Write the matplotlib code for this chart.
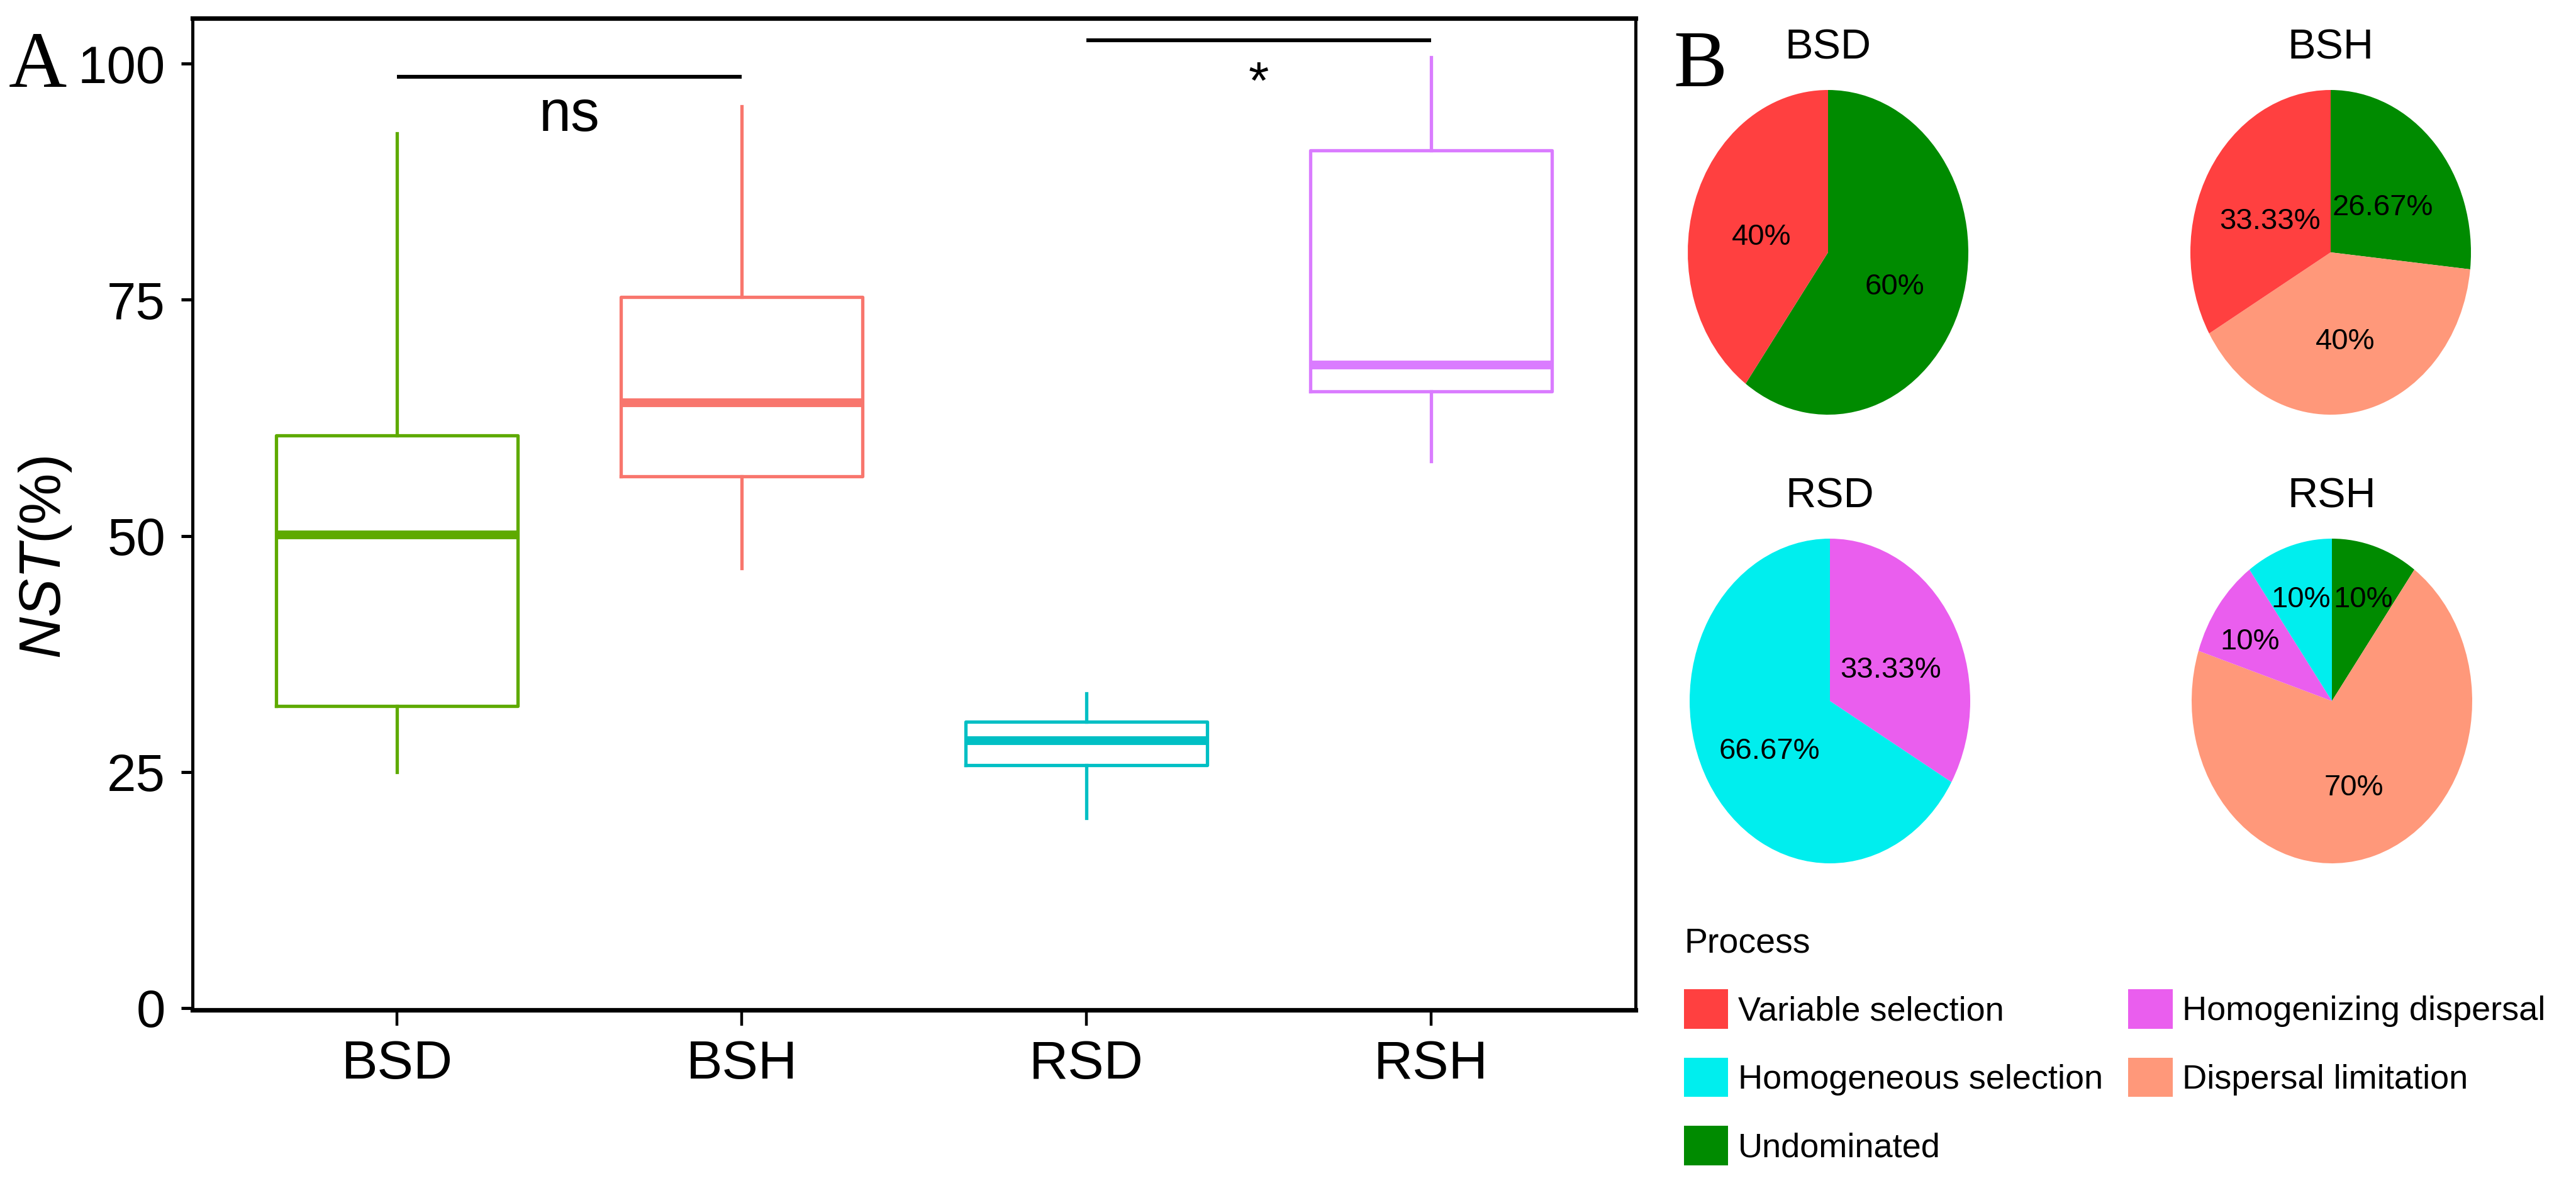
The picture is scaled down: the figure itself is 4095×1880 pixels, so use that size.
import numpy as np
import matplotlib.pyplot as plt
from matplotlib.patches import Patch

plt.rcParams['font.family'] = ['Liberation Sans', 'DejaVu Sans']
plt.rcParams['mathtext.fontset'] = 'custom'
plt.rcParams['mathtext.it'] = 'Liberation Sans:italic'
plt.rcParams['mathtext.rm'] = 'Liberation Sans'

# --- panel A data (NST %) ---
groups = ["BSD", "BSH", "RSD", "RSH"]
box_colors = ["#5EAA00", "#F8766D", "#00BFC4", "#DA7CFF"]
whislo = [25.0, 46.6, 20.1, 57.9]
q1 = [32.0, 56.3, 25.7, 65.3]
med = [50.1, 64.1, 28.3, 68.1]
q3 = [60.6, 75.3, 30.3, 90.8]
whishi = [92.6, 95.5, 33.3, 100.7]
# (group i, group j, label, line height)
comparisons = [(0, 1, "ns", 98.6), (2, 3, "*", 102.5)]

# --- panel B data (process shares %) ---
legend_order = ["Variable selection", "Homogeneous selection", "Undominated",
                "Homogenizing dispersal", "Dispersal limitation"]
proc_colors = {"Variable selection": "#FF4040", "Homogeneous selection": "#00EEEE",
               "Undominated": "#008B00", "Homogenizing dispersal": "#EA5EEE",
               "Dispersal limitation": "#FF987A"}
slice_order = ["Undominated", "Dispersal limitation", "Homogenizing dispersal",
               "Homogeneous selection", "Variable selection"]
share_BSD = [60, 0, 0, 0, 40]
share_BSH = [26.67, 40, 0, 0, 33.33]
share_RSD = [0, 0, 33.33, 66.67, 0]
share_RSH = [10, 70, 10, 10, 0]
shares = {"BSD": share_BSD, "BSH": share_BSH, "RSD": share_RSD, "RSH": share_RSH}

W, H = 4095, 1880
fig = plt.figure(figsize=(W / 200, H / 200), dpi=200)


def px_rect(x0, y0, x1, y1):
    # pixel box (origin top-left) -> figure fraction rect
    return [x0 / W, 1 - y1 / H, (x1 - x0) / W, (y1 - y0) / H]


# ---------------- panel A ----------------
ax = fig.add_axes(px_rect(306, 29, 2600, 1605))
stats = [dict(med=med[i], q1=q1[i], q3=q3[i], whislo=whislo[i], whishi=whishi[i],
              label=groups[i]) for i in range(len(groups))]
art = ax.bxp(stats, positions=range(1, len(groups) + 1), widths=0.7,
             showcaps=False, showfliers=False)
for i, c in enumerate(box_colors):
    art['boxes'][i].set(color=c, linewidth=1.9)
    art['medians'][i].set(color=c, linewidth=5, solid_capstyle='butt')
    art['whiskers'][2 * i].set(color=c, linewidth=1.9)
    art['whiskers'][2 * i + 1].set(color=c, linewidth=1.9)

for i, j, lab, h in comparisons:
    ax.plot([i + 1, j + 1], [h, h], color='black', linewidth=2.2, solid_capstyle='butt')
    if lab == "ns":
        ax.text((i + j) / 2 + 1, h - 5.7, lab, ha='center', va='baseline', fontsize=33)
    else:
        ax.text((i + j) / 2 + 1, h - 6.2, lab, ha='center', va='baseline', fontsize=30)

ax.set_xlim(0.407, 4.593)
ax.set_ylim(-0.2, 104.8)
ax.set_xticks(range(1, 5), groups)
ax.set_yticks([0, 25, 50, 75, 100])
ax.tick_params(axis='x', length=9, width=1.6, pad=8, labelsize=31)
ax.tick_params(axis='y', length=6.5, width=1.8, pad=9, labelsize=30)
for s in ['top', 'bottom']:
    ax.spines[s].set_linewidth(2.6)
for s in ['left', 'right']:
    ax.spines[s].set_linewidth(1.8)

fig.text(72 / W, 1 - 886 / H, r'$\it{NST}$(%)', rotation=90, ha='center', va='center',
         fontsize=33)
fig.text(14 / W, 1 - 138 / H, 'A', family='Liberation Serif', fontsize=46, va='baseline')
fig.text(2660 / W, 1 - 137 / H, 'B', family='Liberation Serif', fontsize=46, va='baseline')

# ---------------- panel B ----------------
centers = {"BSD": (2906, 401), "BSH": (3705, 401), "RSD": (2909, 1114), "RSH": (3707, 1114)}
rx, ry = 223, 258
for g in groups:
    cx, cy = centers[g]
    pax = fig.add_axes(px_rect(cx - 1.2 * rx, cy - 1.2 * ry, cx + 1.2 * rx, cy + 1.2 * ry))
    vals = [v for v in shares[g] if v > 0]
    cols = [proc_colors[p] for p, v in zip(slice_order, shares[g]) if v > 0]
    pax.pie(vals, colors=cols, startangle=90, counterclock=False, radius=1,
            wedgeprops=dict(linewidth=0))
    pax.set_aspect('auto')
    pax.set_xlim(-1.2, 1.2)
    pax.set_ylim(-1.2, 1.2)
    pax.axis('off')
    tot = sum(vals)
    cum = np.cumsum([0] + vals)
    for k, v in enumerate(vals):
        mid = (cum[k] + v / 2) / tot * 2 * np.pi
        r = 0.72 if v / tot <= 0.1 else 0.5
        pax.text(r * np.sin(mid), r * np.cos(mid) - 0.06, f"{v:g}%", ha='center',
                 va='center', fontsize=17)
    pax.text(0, 1.19, g, ha='center', va='baseline', fontsize=24)

handles = [Patch(facecolor=proc_colors[p], edgecolor='none', label=p) for p in legend_order]
fig.legend(handles=handles, loc='upper left', bbox_to_anchor=(2677 / W, 1 - 1474 / H),
           ncol=2, frameon=False, title='Process', fontsize=19.5, title_fontsize=20,
           alignment='left', handlelength=1.3, handleheight=1.4, handletextpad=0.28,
           labelspacing=0.85, columnspacing=0.75, borderpad=0, borderaxespad=0)

fig.savefig('out.png', dpi=200)
